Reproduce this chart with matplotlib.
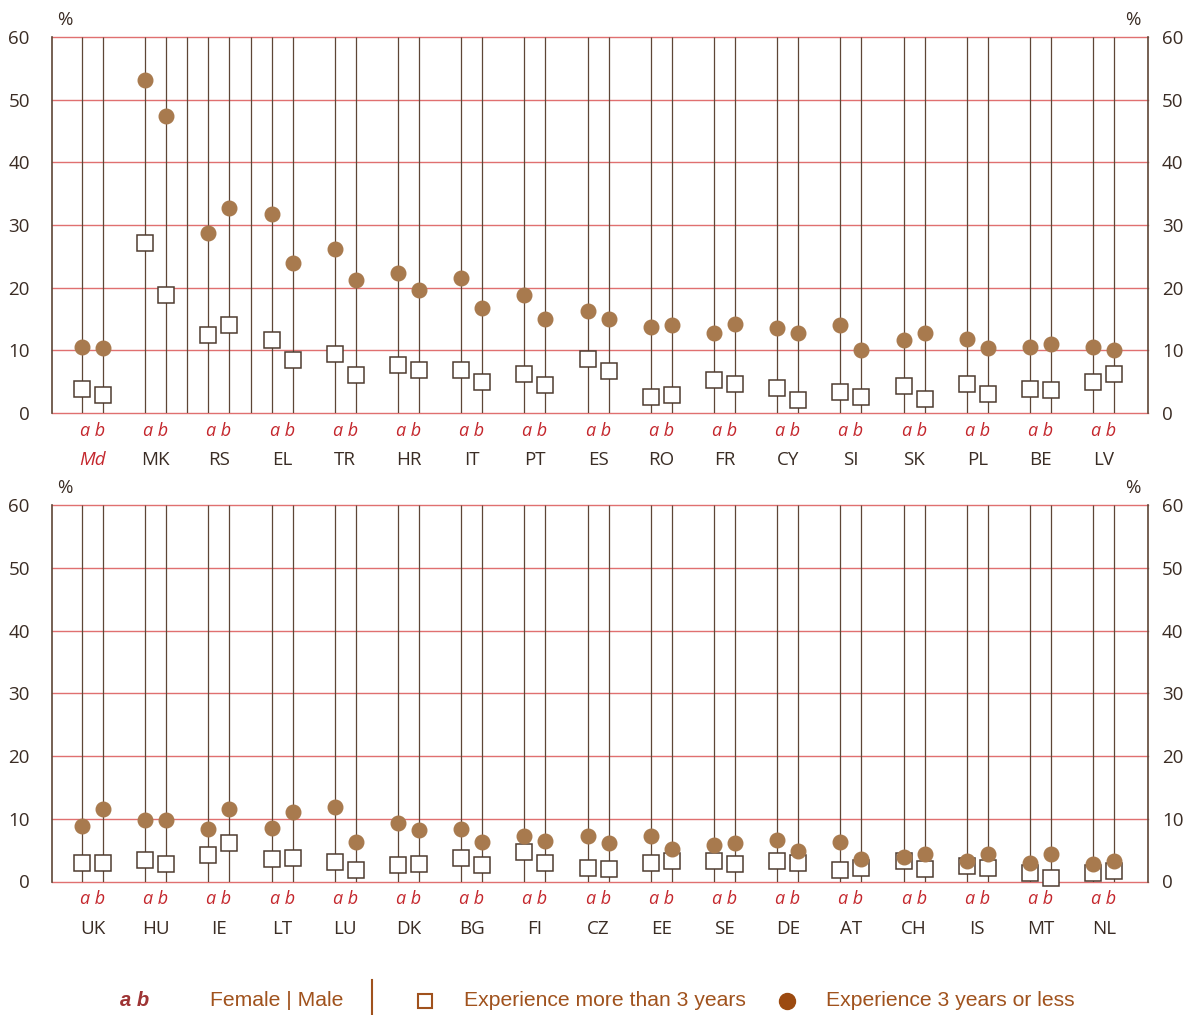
import matplotlib
matplotlib.use("Agg")
import matplotlib.pyplot as plt
from matplotlib.lines import Line2D
import matplotlib.transforms as mtransforms

# ---- data ----
countries_top = ["Md", "MK", "RS", "EL", "TR", "HR", "IT", "PT", "ES", "RO", "FR", "CY", "SI", "SK", "PL", "BE", "LV"]
le3_female_top = [10.5, 53.2, 28.8, 31.8, 26.1, 22.4, 21.6, 18.8, 16.3, 13.7, 12.7, 13.5, 14.0, 11.6, 11.8, 10.5, 10.5]
le3_male_top   = [10.3, 47.4, 32.7, 24.0, 21.2, 19.6, 16.8, 15.0, 15.0, 14.0, 14.2, 12.8, 10.0, 12.7, 10.3, 11.0, 10.0]
gt3_female_top = [3.8, 27.1, 12.5, 11.6, 9.4, 7.7, 6.8, 6.3, 8.6, 2.5, 5.2, 4.0, 3.4, 4.3, 4.6, 3.9, 4.9]
gt3_male_top   = [2.8, 18.8, 14.0, 8.4, 6.1, 6.9, 5.0, 4.5, 6.7, 2.8, 4.7, 2.0, 2.5, 2.3, 3.1, 3.6, 6.2]

countries_bot = ["UK", "HU", "IE", "LT", "LU", "DK", "BG", "FI", "CZ", "EE", "SE", "DE", "AT", "CH", "IS", "MT", "NL"]
le3_female_bot = [8.8, 9.8, 8.3, 8.6, 11.8, 9.3, 8.3, 7.2, 7.3, 7.3, 5.8, 6.6, 6.3, 3.9, 3.3, 2.9, 2.8]
le3_male_bot   = [11.6, 9.8, 11.5, 11.1, 6.3, 8.2, 6.3, 6.5, 6.2, 5.2, 6.2, 4.9, 3.6, 4.4, 4.4, 4.4, 3.3]
gt3_female_bot = [2.9, 3.5, 4.2, 3.6, 3.1, 2.7, 3.8, 4.7, 2.1, 2.9, 3.3, 3.2, 1.9, 3.3, 2.4, 1.4, 1.4]
gt3_male_bot   = [2.9, 2.8, 6.2, 3.8, 1.9, 2.8, 2.7, 2.9, 2.0, 3.3, 2.8, 2.9, 2.1, 2.0, 2.2, 0.5, 1.6]

y_ticks = [0, 10, 20, 30, 40, 50, 60]
boxed_country = "RS"

# ---- style ----
FONT = ["Open Sans", "DejaVu Sans"]
plt.rcParams["font.family"] = FONT
GRID = "#E07070"
STEM = "#5E4636"
DOT = "#A87A4E"
SQ_EDGE = "#4E3C30"
RED = "#C4262C"
DARK = "#3A2C24"
LEG = "#A0521D"

fig = plt.figure(figsize=(11.89, 10.15), dpi=100)
W, H = 1189, 1015

def make_panel(top_px, bottom_px, countries, f_le3, m_le3, f_gt3, m_gt3, boxed=None):
    left_px, right_px = 52, 1148
    ax = fig.add_axes([left_px / W, 1 - bottom_px / H, (right_px - left_px) / W, (bottom_px - top_px) / H])
    n = len(countries)
    off = 0.166
    ax.set_xlim(-0.641, n - 1 + 0.70)
    ax.set_ylim(0, 60)
    for s in ["top", "bottom", "right"]:
        ax.spines[s].set_visible(False)
    ax.spines["left"].set_color(STEM)
    ax.spines["left"].set_linewidth(1.2)
    for t in y_ticks:
        ax.axhline(t, color=GRID, lw=1.0, zorder=1, clip_on=False)
    xs_a = [i - off for i in range(n)]
    xs_b = [i + off for i in range(n)]
    ax.vlines(xs_a + xs_b, 0, 60, color=STEM, lw=0.9, zorder=2)
    if boxed is not None and boxed in countries:
        k = countries.index(boxed)
        ax.vlines([k - 0.5, k + 0.5], 0, 60, color=STEM, lw=0.9, zorder=2)
    ax.plot(xs_a, f_gt3, ls="none", marker="s", ms=11, mfc="white", mec=SQ_EDGE, mew=1.1, zorder=3, clip_on=False)
    ax.plot(xs_b, m_gt3, ls="none", marker="s", ms=11, mfc="white", mec=SQ_EDGE, mew=1.1, zorder=3, clip_on=False)
    ax.plot(xs_a, f_le3, ls="none", marker="o", ms=10.5, mfc=DOT, mec=DOT, zorder=4, clip_on=False)
    ax.plot(xs_b, m_le3, ls="none", marker="o", ms=10.5, mfc=DOT, mec=DOT, zorder=4, clip_on=False)

    ax.set_yticks(y_ticks)
    ax.set_yticklabels([str(t) for t in y_ticks], fontsize=13.5, color=DARK)
    ax.tick_params(axis="y", length=0, pad=16)
    ax.set_xticks([])
    ax2 = ax.twinx()
    ax2.set_ylim(0, 60)
    ax2.set_yticks(y_ticks)
    ax2.set_yticklabels([str(t) for t in y_ticks], fontsize=13.5, color=DARK)
    ax2.tick_params(axis="y", length=0, pad=10)
    for s in ["top", "bottom", "left"]:
        ax2.spines[s].set_visible(False)
    ax2.spines["right"].set_color(STEM)
    ax2.spines["right"].set_linewidth(1.2)

    trans = mtransforms.blended_transform_factory(ax.transData, ax.transAxes)
    h = bottom_px - top_px
    for i, c in enumerate(countries):
        ax.text(i, -18 / h, "a b", transform=trans, ha="center", va="center",
                fontsize=13, style="italic", color=RED)
        is_md = (c == "Md")
        ax.text(i, -47 / h, c, transform=trans, ha="center", va="center",
                fontsize=13.5, style="italic" if is_md else "normal", color=RED if is_md else DARK)
    yp = 1 - (top_px - 17) / H
    fig.text(65 / W, yp, "%", fontsize=13.5, color=DARK, ha="center", va="center")
    fig.text(1133 / W, yp, "%", fontsize=13.5, color=DARK, ha="center", va="center")
    return ax

make_panel(37, 413, countries_top, le3_female_top, le3_male_top, gt3_female_top, gt3_male_top, boxed=boxed_country)
make_panel(505, 881.5, countries_bot, le3_female_bot, le3_male_bot, gt3_female_bot, gt3_male_bot)

# ---- legend ----
ly = 1 - 1001 / H
LFONT = ["Liberation Sans", "DejaVu Sans"]
fig.text(135 / W, ly, "a b", fontsize=14.5, fontweight="bold", style="italic", color="#9E3434",
         ha="center", va="center", family=LFONT)
fig.text(210 / W, ly, "Female | Male", fontsize=15.2, color=LEG, ha="left", va="center", family=LFONT)
fig.add_artist(Line2D([372 / W, 372 / W], [1 - 980 / H, 1 - 1015 / H], color=LEG, lw=1.5))
fig.add_artist(Line2D([425 / W], [ly], marker="s", ms=10, mfc="white", mec=LEG, mew=1.5, ls="none"))
fig.text(464 / W, ly, "Experience more than 3 years", fontsize=15.2, color=LEG, ha="left", va="center", family=LFONT)
fig.add_artist(Line2D([787 / W], [ly], marker="o", ms=11.5, mfc="#9C4A10", mec="#9C4A10", ls="none"))
fig.text(826 / W, ly, "Experience 3 years or less", fontsize=15.2, color=LEG, ha="left", va="center", family=LFONT)

fig.savefig("out.png", dpi=100, facecolor="white")
